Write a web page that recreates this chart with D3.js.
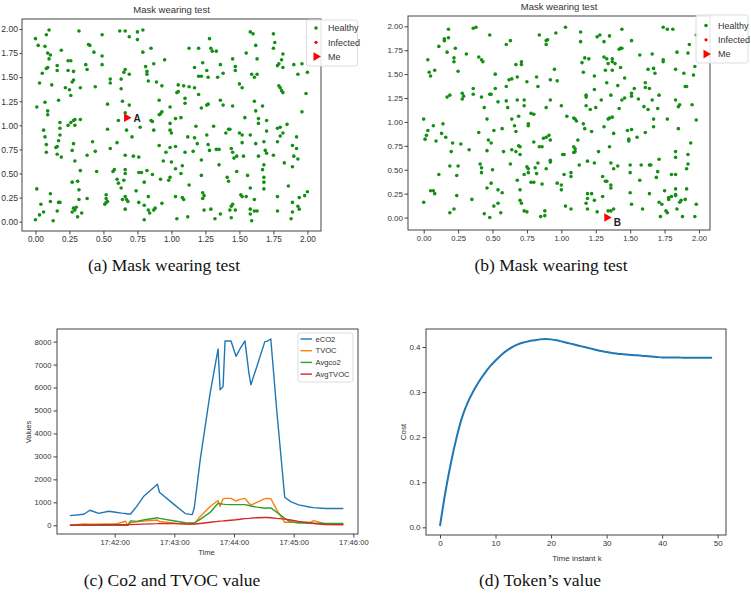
<!DOCTYPE html>
<html><head><meta charset="utf-8">
<script src="https://cdn.jsdelivr.net/npm/d3@7"></script>
<style>
body{margin:0;background:#fff}
svg{display:block}
text{font-family:"Liberation Sans",Arial,sans-serif}
</style>
</head><body>
<script>
// ---------- DATA ----------
const scatterTicks = [0, 0.25, 0.5, 0.75, 1.0, 1.25, 1.5, 1.75, 2.0];
const legendLabels = ["Healthy", "Infected", "Me"];
const meA = [0.67, 1.08], meB = [1.33, 0.00];
const healthyA = [[0.00,1.90],[0.02,1.83],[0.08,1.94],[0.10,1.99],[0.07,1.82],[0.09,1.75],[0.11,1.73],[0.10,1.69],[0.08,1.59],[0.09,1.60],[0.05,1.54],[0.03,1.44],[0.12,1.42],[0.01,1.19],[0.07,1.24],[0.09,1.15],[0.09,1.11],[0.17,1.26],[0.19,1.78],[0.16,1.62],[0.16,1.57],[0.24,1.67],[0.26,1.67],[0.24,1.57],[0.22,1.39],[0.25,1.37],[0.26,1.31],[0.27,1.45],[0.28,1.47],[0.28,1.56],[0.32,1.98],[0.33,1.39],[0.37,1.63],[0.38,1.58],[0.39,1.84],[0.40,1.83],[0.43,1.76],[0.44,1.40],[0.49,1.72],[0.49,1.63],[0.49,1.94],[0.55,1.48],[0.55,1.44],[0.53,1.22],[0.62,1.98],[0.66,1.98],[0.69,1.92],[0.75,1.97],[0.79,1.99],[0.75,1.89],[0.79,1.76],[0.85,1.80],[0.81,1.61],[0.82,1.56],[0.82,1.53],[0.83,1.46],[0.87,1.64],[0.95,1.68],[0.89,1.45],[0.93,1.41],[0.65,1.55],[0.66,1.58],[0.63,1.48],[0.69,1.53],[0.63,1.38],[0.64,1.25],[0.69,1.21],[0.66,1.13],[0.61,1.05],[0.67,0.95],[0.77,0.98],[0.71,0.88],[0.53,0.96],[0.60,0.82],[0.55,0.76],[0.29,1.06],[0.28,1.05],[0.26,1.03],[0.24,1.00],[0.29,1.00],[0.33,1.06],[0.18,1.03],[0.18,0.97],[0.18,0.90],[0.06,0.95],[0.07,0.88],[0.08,0.72],[0.16,0.78],[0.17,0.84],[0.15,0.77],[0.16,0.70],[0.19,0.67],[0.27,0.74],[0.28,0.81],[0.29,0.63],[0.33,0.53],[0.38,0.69],[0.42,0.83],[0.44,0.73],[0.45,0.52],[0.27,0.41],[0.31,0.42],[0.32,0.33],[0.32,0.23],[0.38,0.24],[0.28,0.14],[0.29,0.12],[0.30,0.15],[0.31,0.05],[0.34,0.09],[0.27,0.10],[0.01,0.34],[0.00,0.02],[0.03,0.07],[0.04,0.18],[0.06,0.10],[0.11,0.29],[0.11,0.21],[0.13,0.01],[0.16,0.11],[0.17,0.20],[0.18,0.20],[0.51,0.18],[0.52,0.20],[0.53,0.21],[0.52,0.28],[0.52,0.24],[0.58,0.54],[0.57,0.52],[0.60,0.44],[0.61,0.40],[0.63,0.35],[0.64,0.23],[0.67,0.23],[0.68,0.21],[0.66,0.13],[0.66,0.50],[0.66,0.54],[0.66,0.69],[0.72,0.68],[0.76,0.67],[0.74,0.32],[0.76,0.20],[0.80,0.17],[0.76,0.51],[0.78,0.51],[0.80,0.41],[0.82,0.53],[0.83,0.26],[0.83,0.12],[0.80,0.02],[0.84,0.09],[0.87,0.12],[0.88,0.14],[0.86,0.49],[0.93,0.19],[0.92,0.44],[0.94,0.63],[0.96,0.72],[0.91,0.79],[0.91,1.11],[0.92,1.12],[0.93,1.14],[0.91,1.26],[0.85,1.05],[0.87,0.95],[0.86,1.04],[0.99,1.02],[0.99,0.95],[1.00,0.92],[0.99,0.77],[1.00,0.62],[0.98,0.43],[0.99,0.46],[0.99,1.19],[1.03,1.07],[1.07,1.08],[1.03,0.78],[1.03,0.55],[1.03,0.26],[1.04,0.03],[1.08,0.58],[1.07,0.50],[1.08,0.25],[1.09,0.23],[1.10,0.72],[1.12,0.05],[1.13,0.38],[1.12,0.88],[1.17,0.87],[1.05,1.42],[1.04,1.34],[1.05,1.35],[1.09,1.41],[1.10,1.28],[1.10,1.23],[1.13,1.40],[1.13,1.80],[1.17,1.60],[1.17,1.39],[1.20,1.80],[1.20,1.51],[1.22,1.51],[1.20,1.32],[1.22,1.18],[1.18,0.99],[1.19,0.81],[1.16,0.73],[1.23,1.65],[1.26,1.57],[1.27,1.50],[1.27,1.22],[1.26,1.21],[1.28,1.90],[1.29,1.80],[1.30,1.77],[1.31,0.99],[1.26,0.90],[1.27,0.80],[1.22,0.64],[1.22,0.48],[1.28,0.74],[1.33,0.75],[1.35,0.75],[1.35,0.59],[1.33,1.77],[1.36,1.63],[1.38,1.54],[1.34,1.50],[1.36,1.26],[1.38,1.21],[1.23,0.30],[1.24,0.27],[1.23,0.24],[1.24,0.12],[1.29,0.13],[1.32,0.03],[1.36,0.08],[1.41,0.46],[1.42,0.42],[1.43,0.12],[1.44,0.16],[1.45,0.18],[1.47,0.12],[1.44,0.04],[1.44,0.76],[1.45,0.72],[1.46,0.66],[1.42,0.96],[1.43,0.96],[1.48,0.68],[1.48,0.52],[1.40,0.92],[1.50,0.92],[1.52,0.90],[1.58,0.90],[1.52,0.82],[1.45,1.20],[1.50,1.43],[1.52,1.39],[1.54,1.08],[1.56,0.48],[1.58,0.35],[1.51,0.28],[1.52,0.26],[1.55,0.26],[1.58,0.13],[1.58,0.08],[1.59,0.01],[1.61,0.11],[1.63,0.11],[1.61,0.23],[1.45,1.69],[1.47,1.61],[1.47,1.57],[1.55,1.75],[1.58,1.97],[1.60,1.95],[1.62,1.83],[1.63,1.69],[1.59,1.53],[1.63,1.53],[1.61,1.50],[1.61,1.25],[1.62,1.15],[1.64,1.07],[1.64,1.02],[1.62,0.81],[1.64,0.68],[1.67,1.20],[1.68,0.83],[1.69,0.74],[1.70,0.71],[1.68,0.59],[1.67,0.54],[1.68,0.46],[1.68,0.41],[1.68,0.34],[1.70,0.94],[1.70,1.05],[1.75,1.95],[1.76,1.86],[1.75,1.80],[1.78,1.62],[1.79,1.64],[1.81,1.68],[1.82,1.74],[1.82,1.60],[1.79,1.41],[1.80,1.39],[1.81,1.36],[1.82,1.34],[1.75,0.69],[1.78,0.83],[1.78,0.97],[1.80,0.98],[1.82,0.92],[1.80,0.89],[1.85,1.01],[1.83,0.61],[1.89,0.79],[1.90,0.68],[1.89,0.57],[1.92,0.88],[1.92,0.76],[1.93,0.65],[1.96,1.14],[1.99,1.33],[2.00,1.55],[1.96,1.64],[1.90,1.63],[1.93,1.53],[1.78,0.26],[1.78,0.11],[1.86,0.37],[1.89,0.20],[1.89,0.10],[1.88,0.03],[1.93,0.16],[1.94,0.13],[1.94,0.25],[1.98,0.27],[2.00,0.31],[1.53,0.68],[0.08,0.80],[0.66,0.26],[0.65,0.43]];
const healthyB = [[0.00,1.03],[0.01,0.82],[0.03,0.91],[0.02,0.86],[0.07,0.96],[0.03,1.65],[0.04,1.52],[0.05,1.48],[0.08,1.54],[0.00,0.16],[0.05,0.28],[0.07,0.28],[0.08,0.25],[0.09,0.80],[0.11,0.45],[0.11,1.79],[0.14,0.98],[0.13,0.88],[0.15,1.87],[0.15,1.85],[0.16,0.84],[0.17,1.73],[0.18,1.97],[0.18,1.88],[0.17,1.26],[0.19,1.28],[0.19,0.54],[0.19,0.05],[0.20,0.69],[0.21,0.78],[0.22,0.09],[0.23,1.77],[0.22,1.67],[0.22,1.63],[0.24,0.23],[0.24,0.44],[0.25,1.53],[0.25,0.54],[0.27,0.77],[0.28,1.30],[0.28,1.24],[0.29,1.27],[0.31,1.71],[0.33,0.71],[0.35,0.19],[0.36,1.98],[0.38,1.99],[0.36,1.35],[0.36,1.29],[0.40,1.68],[0.42,1.65],[0.40,0.89],[0.42,1.26],[0.41,0.56],[0.42,0.52],[0.42,0.47],[0.43,1.63],[0.44,1.15],[0.44,0.04],[0.46,0.70],[0.46,1.03],[0.47,0.81],[0.46,0.31],[0.48,0.00],[0.48,1.91],[0.48,1.29],[0.49,1.29],[0.49,0.36],[0.49,0.78],[0.50,0.50],[0.51,0.91],[0.51,0.12],[0.52,1.50],[0.52,1.35],[0.54,1.21],[0.54,0.15],[0.54,0.29],[0.56,0.05],[0.57,0.26],[0.57,0.93],[0.58,0.69],[0.60,1.37],[0.60,1.22],[0.60,1.81],[0.61,1.15],[0.63,1.85],[0.62,1.44],[0.64,1.45],[0.63,0.56],[0.64,0.71],[0.64,1.03],[0.66,0.96],[0.67,0.69],[0.67,0.90],[0.67,1.60],[0.68,0.39],[0.68,1.47],[0.68,1.23],[0.69,1.06],[0.69,0.75],[0.70,0.66],[0.70,0.29],[0.70,0.18],[0.70,0.74],[0.71,1.63],[0.71,1.60],[0.71,0.15],[0.73,0.45],[0.73,1.23],[0.73,1.17],[0.73,0.07],[0.75,0.06],[0.75,0.53],[0.76,0.47],[0.76,0.51],[0.75,1.42],[0.76,0.98],[0.76,0.96],[0.78,0.37],[0.78,1.09],[0.80,1.08],[0.80,0.37],[0.80,0.79],[0.81,0.52],[0.82,1.47],[0.82,0.46],[0.83,1.37],[0.83,0.57],[0.84,0.74],[0.84,1.91],[0.85,0.01],[0.86,0.74],[0.86,0.35],[0.87,0.83],[0.88,0.07],[0.88,0.02],[0.89,0.51],[0.89,1.85],[0.89,1.81],[0.90,1.86],[0.89,0.84],[0.89,1.15],[0.91,0.86],[0.92,0.81],[0.92,0.60],[0.92,0.58],[0.92,1.44],[0.92,1.23],[0.95,1.55],[0.96,1.93],[0.97,1.43],[0.97,0.36],[1.00,0.34],[1.00,0.29],[1.00,1.17],[1.01,0.66],[1.02,0.66],[1.02,0.45],[1.03,1.99],[1.03,0.12],[1.04,1.06],[1.07,0.47],[1.07,0.43],[1.07,0.09],[1.09,1.04],[1.10,1.03],[1.11,1.01],[1.09,0.74],[1.10,0.69],[1.09,0.68],[1.10,0.72],[1.12,0.81],[1.13,0.55],[1.14,1.94],[1.14,1.84],[1.15,1.62],[1.16,1.52],[1.16,0.98],[1.17,0.93],[1.17,1.67],[1.18,1.28],[1.18,1.26],[1.18,1.17],[1.20,1.66],[1.19,0.59],[1.19,0.25],[1.19,0.20],[1.18,0.15],[1.19,0.09],[1.21,1.13],[1.22,0.90],[1.22,0.25],[1.24,1.34],[1.24,1.48],[1.24,0.57],[1.24,0.18],[1.25,1.15],[1.26,1.89],[1.26,0.06],[1.27,0.69],[1.28,1.91],[1.29,1.23],[1.30,0.43],[1.30,0.22],[1.31,0.95],[1.31,1.68],[1.31,1.84],[1.32,0.38],[1.32,1.54],[1.33,1.66],[1.34,1.61],[1.33,1.41],[1.33,0.38],[1.34,1.03],[1.35,1.90],[1.35,0.74],[1.35,1.04],[1.36,0.57],[1.36,0.34],[1.36,0.31],[1.36,0.07],[1.34,0.07],[1.36,1.28],[1.37,1.05],[1.37,1.66],[1.37,1.63],[1.37,1.54],[1.38,0.88],[1.38,0.09],[1.38,0.51],[1.39,1.61],[1.41,1.38],[1.41,0.54],[1.42,1.14],[1.43,1.57],[1.42,1.76],[1.43,1.77],[1.44,1.77],[1.44,1.97],[1.46,1.46],[1.46,1.25],[1.44,1.23],[1.48,0.91],[1.49,0.82],[1.50,0.55],[1.50,0.26],[1.51,0.14],[1.49,0.80],[1.50,0.47],[1.51,1.27],[1.51,1.30],[1.51,0.92],[1.51,1.85],[1.53,1.35],[1.55,0.84],[1.57,1.70],[1.56,1.24],[1.57,0.39],[1.58,0.55],[1.59,0.09],[1.60,1.16],[1.61,1.41],[1.61,1.36],[1.61,0.89],[1.63,1.55],[1.63,1.13],[1.64,0.55],[1.64,0.25],[1.65,0.55],[1.64,1.35],[1.66,1.71],[1.66,1.23],[1.67,1.03],[1.67,0.95],[1.67,1.56],[1.68,1.51],[1.69,0.42],[1.70,0.48],[1.70,1.14],[1.71,1.28],[1.71,0.61],[1.71,0.16],[1.72,0.01],[1.73,0.14],[1.74,1.65],[1.74,1.63],[1.74,1.99],[1.75,0.28],[1.76,0.07],[1.77,1.97],[1.77,1.03],[1.77,0.05],[1.78,0.21],[1.78,0.19],[1.80,0.22],[1.80,0.45],[1.81,1.97],[1.83,0.30],[1.83,0.24],[1.83,0.23],[1.83,0.69],[1.83,0.45],[1.83,0.63],[1.83,1.23],[1.83,1.55],[1.84,1.73],[1.84,0.09],[1.85,0.93],[1.85,1.16],[1.86,1.18],[1.86,0.16],[1.87,0.18],[1.88,0.01],[1.89,1.51],[1.90,1.37],[1.90,0.19],[1.91,0.30],[1.91,0.51],[1.91,1.37],[1.92,0.66],[1.92,0.56],[1.92,1.72],[1.93,1.81],[1.94,0.78],[1.95,1.18],[1.96,1.49],[1.97,1.58],[1.97,0.01],[1.98,0.14],[1.98,1.02],[1.98,1.91]];

const times = ["17:41:15","17:41:29","17:41:35","17:41:44","17:41:54","17:42:01","17:42:07","17:42:11","17:42:13","17:42:16","17:42:22","17:42:29","17:42:43","17:42:45","17:42:59","17:43:11","17:43:18","17:43:20","17:43:26","17:43:36","17:43:44","17:43:46","17:43:49","17:43:51","17:43:57","17:44:02","17:44:06","17:44:11","17:44:15","17:44:17","17:44:23","17:44:31","17:44:33","17:44:37","17:44:43","17:44:51","17:44:57","17:45:05","17:45:17","17:45:20","17:45:32","17:45:50"];
const eCO2    = [420,480,655,520,610,570,530,510,490,490,815,1250,1790,1440,933,510,465,740,2850,5760,7680,5900,6040,8030,8030,7360,7680,8030,6630,6120,6920,8000,8010,8115,5000,1220,1030,890,785,770,730,730];
const TVOC    = [0,60,50,50,60,60,120,175,10,110,150,180,230,170,100,40,40,60,380,815,1080,830,1150,1170,1170,1050,1130,1170,960,880,1000,1160,1170,1160,670,130,140,110,130,200,60,40];
const Avgco2  = [0,0,0,0,0,0,0,0,0,190,170,230,330,300,200,110,100,100,260,560,960,940,920,910,900,900,900,900,860,840,790,740,750,760,570,300,150,110,90,90,80,80];
const AvgTVOC = [0,10,15,20,20,25,25,25,25,30,40,50,70,75,70,60,55,55,80,130,170,180,190,200,220,240,260,290,300,310,330,340,340,330,300,270,230,170,100,80,30,20];
const seriesNames = ["eCO2","TVOC","Avgco2","AvgTVOC"];
const timeTicks = ["17:42:00","17:43:00","17:44:00","17:45:00","17:46:00"];
const valueTicks = [0,1000,2000,3000,4000,5000,6000,7000,8000];

const tokenCost = [0.003,0.08,0.145,0.2,0.245,0.277,0.302,0.323,0.341,0.357,
  0.370,0.382,0.392,0.400,0.406,0.410,0.413,0.415,0.417,0.418,
  0.417,0.415,0.412,0.409,0.406,0.403,0.400,0.397,0.394,0.391,
  0.389,0.387,0.385,0.384,0.383,0.382,0.381,0.380,0.379,0.378,
  0.377,0.377,0.377,0.377,0.376,0.376,0.376,0.376,0.376,0.376];
const kTicks = [0,10,20,30,40,50];
const costTicks = [0,0.1,0.2,0.3,0.4];

const captions = ["(a) Mask wearing test","(b) Mask wearing test","(c) Co2 and TVOC value","(d) Token\u2019s value"];

// ---------- DRAW ----------
const svg = d3.select("body").append("svg").attr("width",751).attr("height",594);
const AX = "#444", TX = "#333";
const GREEN = "#138f13", RED = "#ff0000";
const seriesColors = ["#1f77b4","#ff7f0e","#2ca02c","#d62728"];

function styleAxis(g, fs){
  g.select(".domain").remove();
  g.selectAll(".tick line").attr("stroke",AX);
  g.selectAll(".tick text").attr("fill",TX).style("font-size",fs+"px").style("font-family","'Liberation Sans',Arial,sans-serif");
}
function frame(box){
  svg.append("rect").attr("x",box.l).attr("y",box.t).attr("width",box.r-box.l).attr("height",box.b-box.t)
    .attr("fill","none").attr("stroke",AX).attr("stroke-width",1);
}

function scatterPanel(box, xd, yd, pts, me, meLabel, labOff, title, titleY, fs, leg){
  const x = d3.scaleLinear().domain(xd).range([box.l,box.r]);
  const y = d3.scaleLinear().domain(yd).range([box.b,box.t]);
  const g = svg.append("g");
  g.selectAll("circle.h").data(pts).join("circle").attr("class","h")
    .attr("cx",d=>x(d[0])).attr("cy",d=>y(d[1])).attr("r",1.8).attr("fill",GREEN);
  const tri = d3.symbol().type(d3.symbolTriangle).size(32);
  g.append("path").attr("d",tri()).attr("fill",RED)
    .attr("transform",`translate(${x(me[0])},${y(me[1])}) rotate(90)`);
  g.append("text").attr("x",x(me[0])+labOff[0]).attr("y",y(me[1])+labOff[1])
    .text(meLabel).style("font-size","10px").style("font-weight","bold").attr("fill","#222");
  const fmt = d3.format(".2f");
  svg.append("g").attr("transform",`translate(0,${box.b})`)
    .call(d3.axisBottom(x).tickValues(scatterTicks).tickFormat(fmt).tickSize(3.5).tickPadding(2))
    .call(s=>styleAxis(s,fs.x));
  svg.append("g").attr("transform",`translate(${box.l},0)`)
    .call(d3.axisLeft(y).tickValues(scatterTicks).tickFormat(fmt).tickSize(fs.ts).tickPadding(1.5))
    .call(s=>styleAxis(s,fs.y));
  frame(box);
  svg.append("text").attr("x",(box.l+box.r)/2).attr("y",titleY).attr("text-anchor","middle")
    .text(title).style("font-size","9.5px").attr("fill",TX);
  // legend
  const lg = svg.append("g");
  lg.append("rect").attr("x",leg.x).attr("y",leg.y).attr("width",leg.w).attr("height",leg.h)
    .attr("rx",2).attr("fill","#fff").attr("fill-opacity",0.85).attr("stroke","#ddd");
  legendLabels.forEach((lab,i)=>{
    const cy = leg.y + leg.r0 + i*leg.dy;
    if(i===0) lg.append("circle").attr("cx",leg.mx).attr("cy",cy).attr("r",1.8).attr("fill",GREEN);
    if(i===1) lg.append("circle").attr("cx",leg.mx).attr("cy",cy).attr("r",1.6).attr("fill",RED);
    if(i===2) lg.append("path").attr("d",tri()).attr("fill",RED).attr("transform",`translate(${leg.mx},${cy}) rotate(90)`);
    lg.append("text").attr("x",leg.tx).attr("y",cy+3.2).text(lab).style("font-size",leg.fs+"px").attr("fill",TX);
  });
}

scatterPanel({l:22,r:321,t:19,b:231},[-0.099,2.10],[-0.097,2.104],healthyA,meA,"A",[7,4],"Mask wearing test",12.5,{x:8.2,y:8.6,ts:2.5},
  {x:306.5,y:20,w:51,h:46,r0:8,dy:14.3,mx:316,tx:328,fs:9});
scatterPanel({l:408,r:710,t:16,b:230},[-0.114,2.08],[-0.13,2.108],healthyB,meB,"B",[7,8],"Mask wearing test",10,{x:7.6,y:8,ts:3.5},
  {x:696,y:15,w:52,h:48,r0:10.5,dy:14.3,mx:706,tx:718,fs:9});

// ---------- panel c ----------
(function(){
  const box = {l:57,r:358,t:329,b:534};
  const parse = d3.timeParse("%H:%M:%S");
  const tt = times.map(parse);
  const x = d3.scaleTime().domain([parse("17:41:02"), new Date(parse("17:46:04").getTime()+700)]).range([box.l,box.r]);
  const y = d3.scaleLinear().domain([-380,8550]).range([box.b,box.t]);
  const all = [eCO2,TVOC,Avgco2,AvgTVOC];
  const line = d3.line().x((d,i)=>x(tt[i])).y(d=>y(d));
  all.forEach((s,k)=>{
    svg.append("path").datum(s).attr("d",line).attr("fill","none")
      .attr("stroke",seriesColors[k]).attr("stroke-width",1.4).attr("stroke-linejoin","round");
  });
  svg.append("g").attr("transform",`translate(0,${box.b})`)
    .call(d3.axisBottom(x).tickValues(timeTicks.map(parse)).tickFormat(d3.timeFormat("%H:%M:%S")).tickSize(3.5).tickPadding(2))
    .call(s=>styleAxis(s,7.6));
  svg.append("g").attr("transform",`translate(${box.l},0)`)
    .call(d3.axisLeft(y).tickValues(valueTicks).tickFormat(d3.format("d")).tickSize(3.5).tickPadding(2))
    .call(s=>styleAxis(s,7.6));
  frame(box);
  svg.append("text").attr("x",(box.l+box.r)/2 - 1).attr("y",555).attr("text-anchor","middle").text("Time").style("font-size","7.6px").attr("fill",TX);
  svg.append("text").attr("transform","translate(31,432) rotate(-90)").attr("text-anchor","middle").text("Values").style("font-size","7.6px").attr("fill",TX);
  const lg = svg.append("g");
  lg.append("rect").attr("x",298).attr("y",333).attr("width",55).attr("height",49).attr("rx",2).attr("fill","#fff").attr("stroke","#ddd");
  seriesNames.forEach((n,i)=>{
    const cy = 339 + i*11.7;
    lg.append("line").attr("x1",300.5).attr("x2",312).attr("y1",cy).attr("y2",cy).attr("stroke",seriesColors[i]).attr("stroke-width",1.4);
    lg.append("text").attr("x",315.5).attr("y",cy+2.7).text(n).style("font-size","7.6px").attr("fill",TX);
  });
})();

// ---------- panel d ----------
(function(){
  const box = {l:426,r:726,t:329,b:535};
  const x = d3.scaleLinear().domain([-2.52,51.5]).range([box.l,box.r]);
  const y = d3.scaleLinear().domain([-0.017,0.440]).range([box.b,box.t]);
  const line = d3.line().curve(d3.curveMonotoneX).x((d,i)=>x(i)).y(d=>y(d));
  svg.append("path").datum(tokenCost).attr("d",line).attr("fill","none").attr("stroke","#1f77b4").attr("stroke-width",2);
  svg.append("g").attr("transform",`translate(0,${box.b})`)
    .call(d3.axisBottom(x).tickValues(kTicks).tickFormat(d3.format("d")).tickSize(3.5).tickPadding(2))
    .call(s=>styleAxis(s,8));
  svg.append("g").attr("transform",`translate(${box.l},0)`)
    .call(d3.axisLeft(y).tickValues(costTicks).tickFormat(d3.format(".1f")).tickSize(3.5).tickPadding(2))
    .call(s=>styleAxis(s,8));
  frame(box);
  svg.append("text").attr("x",577).attr("y",561).attr("text-anchor","middle").text("Time instant k").style("font-size","8px").attr("fill",TX);
  svg.append("text").attr("transform","translate(406,432) rotate(-90)").attr("text-anchor","middle").text("Cost").style("font-size","8px").attr("fill",TX);
})();

// ---------- captions ----------
const capPos = [[164,271],[551,271],[172,586],[540,586]];
captions.forEach((c,i)=>{
  svg.append("text").attr("x",capPos[i][0]).attr("y",capPos[i][1]).attr("text-anchor","middle")
    .text(c).style("font-family","'Liberation Serif','Times New Roman',serif").style("font-size","17.5px").attr("fill","#111");
});
</script>
</body></html>
